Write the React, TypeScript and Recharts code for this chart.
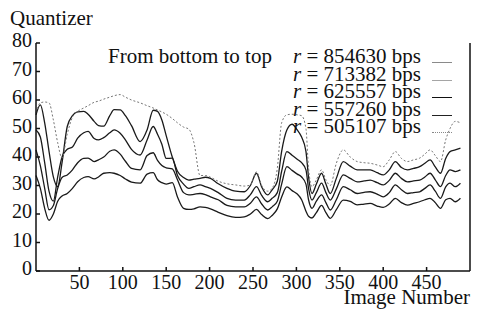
import React from 'react';
import { LineChart, Line, XAxis, YAxis } from 'recharts';

// image number (x) shared by every curve
const imageNumbers = [
  0, 5, 10, 15, 20, 25, 30, 36, 42, 48, 55, 60, 67, 72, 78, 85, 90, 97, 103, 110,
  120, 128, 135, 140, 145, 150, 157, 163, 170, 176, 182, 189, 195, 201, 210, 220, 230, 240, 247, 254,
  260, 267, 272, 278, 283, 289, 295, 301, 306, 311, 314, 318, 323, 329, 334, 339, 346, 354, 362, 370,
  378, 385, 393, 400, 407, 414, 421, 428, 435, 442, 448, 454, 460, 466, 472, 477, 483, 489,
];

// quantizer per rate, from bottom to top
const q854630 = [
  33.5, 29, 22, 17.8, 20, 24.5, 26.3, 27.2, 29, 31.3, 32.8, 33.1, 32.3, 33, 34.3, 34.5, 34.3, 33.5, 32.3, 31.2,
  30.8, 34, 34.5, 32, 31, 30.5, 31, 26, 22, 21.6, 21.8, 22.5, 22.3, 21.8, 20.6, 19.4, 18.8, 19, 20, 21.6,
  19.8, 18.4, 19.5, 21.8, 26, 29.5, 28.2, 27, 25, 21, 19.2, 18.6, 20.5, 23, 20.5, 18.5, 21.5, 24.9, 24.4, 23.2,
  23.5, 23.7, 22.8, 22.3, 23.5, 25.5, 24, 23.1, 23.7, 24.3, 25, 25.5, 24, 22, 25, 25.5, 24.3, 25.5,
];
const q713382 = [
  42.5, 37, 29, 21.5, 23, 29, 32.8, 33.7, 35.5, 38, 39.5, 39.6, 38.4, 39, 40, 42, 42.5, 41, 38.5, 36,
  35.5, 40.5, 41.5, 38.8, 37, 36.2, 35.8, 32, 27.5, 26.7, 26.9, 27.2, 26.8, 26, 25, 23, 22.5, 22.5, 23.8, 26,
  23.5, 21.4, 22.5, 24.5, 30.5, 36.6, 35.3, 34, 33, 30.5, 25, 22, 24.5, 26.7, 24, 21.4, 25, 29.6, 28.5, 27.2,
  27.6, 27.8, 27, 26, 27.5, 30.2, 28.5, 27.2, 27.5, 27.8, 29, 30.2, 28, 25.5, 29.5, 30.8, 29.6, 30.8,
];
const q625557 = [
  49.5, 47, 38, 28, 24.5, 33, 40, 42.7, 43.5, 46.6, 48.5, 49, 46.5, 46, 46.8, 48.5, 49.5, 48.3, 46, 42.7,
  40.7, 46, 50.7, 48, 44.5, 39.5, 39.6, 33.5, 30.5, 29, 29.6, 30.2, 29.6, 29, 27.5, 25.5, 24.9, 24.9, 26.8, 29.6,
  26.5, 24.3, 25.5, 27.5, 35, 41.9, 40.6, 39.2, 38, 35.5, 29, 24.9, 27.5, 30.8, 27.5, 24.9, 28.8, 33.7, 32.5, 31.3,
  31.6, 31.9, 31, 30.2, 31.8, 34.3, 32.5, 31.3, 31.6, 31.9, 33, 34.3, 32, 29.6, 33.5, 35.5, 34.9, 35.5,
];
const q557260 = [
  54.8, 58.3, 52, 42, 33, 29.6, 38, 50.7, 54.5, 55.8, 56, 55, 52.5, 51, 50.8, 54.5, 56.6, 56.5, 54.5, 51,
  45.4, 49.5, 56.4, 56, 53, 47.5, 40, 35, 32.8, 31.9, 32.2, 32.5, 32.9, 32.5, 30.6, 29, 28, 27.8, 30, 34.3,
  29.5, 26.7, 28.5, 31.5, 42, 49.5, 51.5, 49.5, 47, 42, 33, 27.2, 30.5, 34.3, 30.5, 27.2, 32.5, 38.4, 36.8, 35.5,
  35.5, 35.5, 34.5, 33.7, 35.5, 38.4, 36.3, 35.5, 36, 36.6, 37.8, 39, 36.5, 34.3, 39.5, 41.9, 42.5, 43.1,
];
const q505107 = [
  55.5, 59, 59.3, 59, 53, 45, 39.6, 48, 54, 56, 57.2, 58, 59.2, 59.6, 60.3, 61, 61.5, 61.9, 61, 60,
  59, 58, 57.2, 56.5, 55.8, 55, 53.5, 52, 50.5, 49.8, 45, 33.5, 33.5, 32.9, 31.5, 30.6, 30.2, 29.8, 30.2, 34.8,
  30, 28, 29, 36, 52, 54.8, 55, 54.8, 54.5, 50, 36, 29.6, 32, 35.5, 32, 30, 37.8, 42.5, 40, 38.4,
  38, 37.8, 37.2, 36.6, 39, 41.9, 39.5, 38.4, 39, 39.6, 41, 42.5, 40.5, 38.4, 46, 50, 52.5, 52,
];

const xTicks = [50, 100, 150, 200, 250, 300, 350, 400, 450];
const yTicks = [0, 10, 20, 30, 40, 50, 60, 70, 80];
const rates = ['854630', '713382', '625557', '557260', '505107'];

const data = imageNumbers.map((n, i) => ({
  n,
  a: q854630[i],
  b: q713382[i],
  c: q625557[i],
  d: q557260[i],
  e: q505107[i],
}));

const font = "'Liberation Serif', 'DejaVu Serif', serif";
const tickStyle = { fontFamily: font, fontSize: 20, fill: '#111' };

// legend sample lines, same order as rates
const samples = [
  { color: '#8a8a8a', dash: false },
  { color: '#a5a5a5', dash: false },
  { color: '#111', dash: false },
  { color: '#222', dash: false },
  { color: '#888', dash: true },
];

export default function App() {
  return (
    <div style={{ position: 'absolute', left: 0, top: 0, width: 479, height: 311, background: '#fff', fontFamily: font, color: '#111' }}>
      <LineChart width={479} height={311} data={data} margin={{ top: 43, right: 0, bottom: 0, left: 0 }} style={{ fontFamily: font }}>
        <XAxis dataKey="n" type="number" domain={[0, 500]} ticks={xTicks} height={40}
          stroke="#111" strokeWidth={1.5} tickSize={-4} tickMargin={8} tick={tickStyle} />
        <XAxis xAxisId="top" dataKey="n" type="number" orientation="top" domain={[0, 500]} ticks={xTicks} height={0}
          stroke="#111" strokeWidth={1.5} tickSize={-4} tick={false} />
        <YAxis domain={[0, 80]} ticks={yTicks} width={36} stroke="#111" strokeWidth={1.5}
          tickSize={-4} tickMargin={8} tick={{ ...tickStyle, dy: -3 }} />
        <YAxis yAxisId="right" orientation="right" domain={[0, 80]} ticks={yTicks} width={9}
          stroke="#111" strokeWidth={1.5} tickSize={-4} tick={false} />
        <Line dataKey="a" type="monotone" stroke="#1a1a1a" strokeWidth={1.3} dot={false} isAnimationActive={false} />
        <Line dataKey="b" type="monotone" stroke="#1a1a1a" strokeWidth={1.3} dot={false} isAnimationActive={false} />
        <Line dataKey="c" type="monotone" stroke="#1a1a1a" strokeWidth={1.3} dot={false} isAnimationActive={false} />
        <Line dataKey="d" type="monotone" stroke="#1a1a1a" strokeWidth={1.3} dot={false} isAnimationActive={false} />
        <Line dataKey="e" type="monotone" stroke="#777" strokeWidth={1} strokeDasharray="2 2" dot={false} isAnimationActive={false} />
      </LineChart>

      <div style={{ position: 'absolute', left: 10, top: 10, fontSize: 21, lineHeight: '17px' }}>Quantizer</div>
      <div style={{ position: 'absolute', right: 9, top: 290, fontSize: 21, lineHeight: '15px' }}>Image Number</div>

      <div style={{ position: 'absolute', left: 108, top: 48, fontSize: 21, lineHeight: '17px' }}>From bottom to top</div>
      {rates.map((r, i) => (
        <div key={r} style={{ position: 'absolute', left: 293, top: 48 + i * 17.5, fontSize: 21, lineHeight: '17px', whiteSpace: 'nowrap' }}>
          <i>r</i> = {r} bps
          <span style={{
            position: 'absolute', left: 139, top: 14, width: 20, height: 0,
            borderTop: `1.3px ${samples[i].dash ? 'dotted' : 'solid'} ${samples[i].color}`,
          }} />
        </div>
      ))}
    </div>
  );
}
